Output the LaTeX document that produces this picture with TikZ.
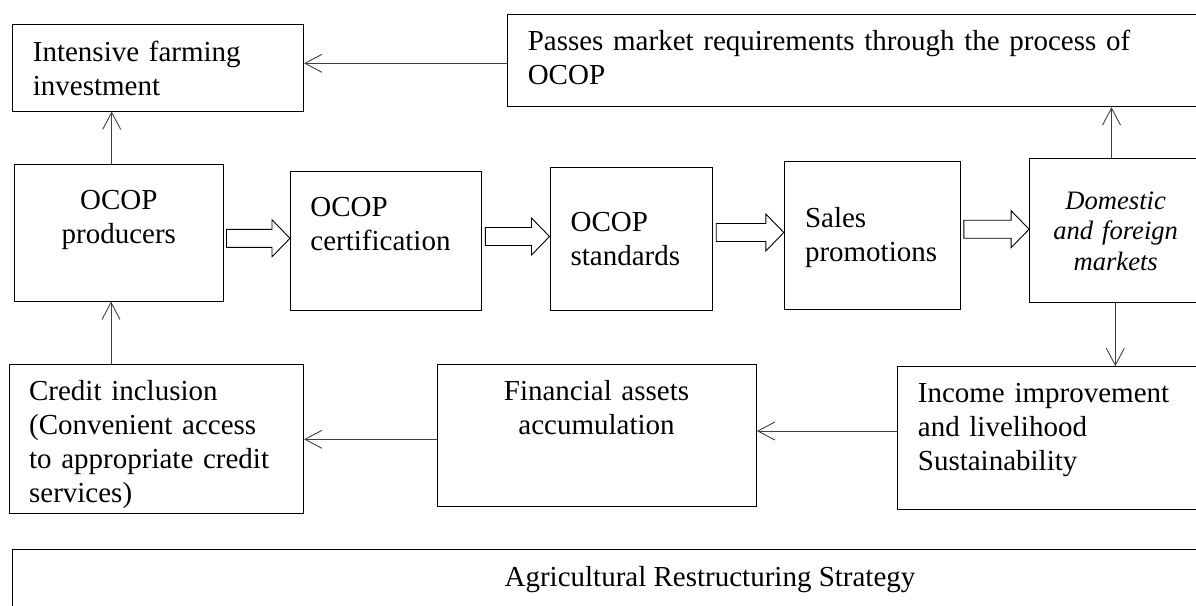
\documentclass[tikz,border=0pt]{standalone}
\usepackage{fontspec}
\setmainfont{Liberation Serif}
\usetikzlibrary{arrows.meta,calc,fit}

\tikzset{
  box/.style={draw,line width=0.5pt,inner sep=0pt},
  txt/.style={inner sep=0pt,align=left,font=\fontsize{14.5}{17}\selectfont},
  link/.style={draw=black!75,line width=0.45pt,-{Straight Barb[length=8.5pt,width=9pt]}},
  fat/.style={draw,line width=0.45pt,fill=white}
}

% hollow block arrow between two boxes at height #3
\newcommand{\fatarrow}[3]{%
  \path ([xshift=1.5pt]#1.east |- 0,#3) coordinate (fa-s)
        (#2.west |- 0,#3) coordinate (fa-e);
  \draw[fat] ($(fa-s)+(0,-9)$) -- ($(fa-e)+(-18,-9)$) -- ($(fa-e)+(-18,-18.5)$)
    -- (fa-e) -- ($(fa-e)+(-18,18.5)$) -- ($(fa-e)+(-18,9)$) -- ($(fa-s)+(0,9)$) -- cycle;
}

\begin{document}
\begin{tikzpicture}[x=0.5pt,y=-0.5pt]
  \useasboundingbox (0,0) rectangle (1196,606);
  \clip (0,0) rectangle (1196,606);

  % boxes
  \node[box,fit={(12.6,24.3) (303.5,111)}] (inten) {};
  \node[box,fit={(507,14.3) (1240,106.7)}] (passes) {};
  \node[box,fit={(14.5,164) (223,301)}] (prod) {};
  \node[box,fit={(290.5,171.3) (481.8,310)}] (cert) {};
  \node[box,fit={(550,167.7) (712.7,310.3)}] (stand) {};
  \node[box,fit={(784.3,161.7) (960.3,309)}] (sales) {};
  \node[box,fit={(1029.6,158.3) (1202,302.7)}] (market) {};
  \node[box,fit={(9.6,364.7) (303.5,513.3)}] (credit) {};
  \node[box,fit={(437,364.7) (756.4,506)}] (fin) {};
  \node[box,fit={(897.6,366.7) (1240,509.3)}] (income) {};
  \node[box,fit={(12.6,549.3) (1410,660)}] (strat) {};

  % texts
  \node[txt,text width=160pt,anchor=base west] (inten-t) at (32.5,61) {Intensive farming\\investment};
  \node[txt,text width=320pt,anchor=base west] (passes-t) at (527.4,50.7) {Passes market requirements through the process of\\OCOP};
  \node[txt,text width=90pt,align=center,anchor=base] (prod-t) at (118.8,209.3) {OCOP\\producers};
  \node[txt,text width=90pt,anchor=base west] (cert-t) at (310,216) {OCOP\\certification};
  \node[txt,text width=75pt,anchor=base west] (stand-t) at (570.2,231.7) {OCOP\\standards};
  \node[txt,text width=80pt,anchor=base west] (sales-t) at (804.6,227.7) {Sales\\promotions};
  \node[txt,text width=80pt,align=center,anchor=base,font=\fontsize{13.3}{15.3}\selectfont\itshape] (market-t) at (1115.7,209) {Domestic\\and foreign\\markets};
  \node[txt,text width=140pt,anchor=base west] (credit-t) at (28.7,400.7) {Credit inclusion\\(Convenient access\\to appropriate credit\\services)};
  \node[txt,text width=120pt,align=center,anchor=base] (fin-t) at (596.5,400.7) {Financial assets\\accumulation};
  \node[txt,text width=140pt,anchor=base west] (income-t) at (917.5,402.7) {Income improvement\\and livelihood\\Sustainability};
  \node[txt,anchor=base] (strat-t) at (710,586.7) {Agricultural Restructuring Strategy};

  % thin arrows
  \draw[link] (passes.west |- 0,63.3) -- (inten.east |- 0,63.3);
  \draw[link] (prod.north -| 111.7,0) -- (inten.south -| 111.7,0);
  \draw[link] (credit.north -| 111,0) -- (prod.south -| 111,0);
  \draw[link] (market.north -| 1111.5,0) -- (passes.south -| 1111.5,0);
  \draw[link] (market.south -| 1115.3,0) -- (income.north -| 1115.3,0);
  \draw[link] (income.west |- 0,431) -- (fin.east |- 0,431);
  \draw[link] (fin.west |- 0,439.3) -- (credit.east |- 0,439.3);

  % block arrows along the chain
  \fatarrow{prod}{cert}{238.3}
  \fatarrow{cert}{stand}{236.5}
  \fatarrow{stand}{sales}{232.5}
  \fatarrow{sales}{market}{229.2}
\end{tikzpicture}
\end{document}
